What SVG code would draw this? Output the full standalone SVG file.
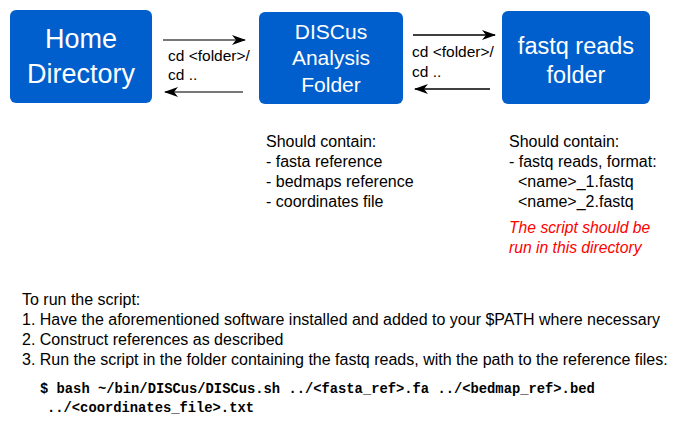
<svg xmlns="http://www.w3.org/2000/svg" width="679" height="425" viewBox="0 0 679 425">
<style>
.box{fill:#005fcc;}
.bt{font-family:"Liberation Sans",Arial,sans-serif;fill:#ffffff;text-anchor:middle;}
.t{font-family:"Liberation Sans",Arial,sans-serif;fill:#000000;font-size:16px;}
.lbl{font-family:"Liberation Sans",Arial,sans-serif;fill:#000000;font-size:15.5px;}
.red{font-family:"Liberation Sans",Arial,sans-serif;fill:#ff0000;font-size:15.7px;font-style:italic;}
.code{font-family:"Liberation Mono","Courier New",monospace;font-weight:bold;font-size:13.8px;fill:#000;}
.g{stroke:#777777;stroke-width:2;fill:none;}
.k{stroke:#000000;stroke-width:1.5;fill:none;}
</style>
<defs>
<marker id="ah" viewBox="0 0 14 10" refX="13" refY="5" markerWidth="14" markerHeight="10" markerUnits="userSpaceOnUse" orient="auto">
<path d="M0,0 L14,5 L0,10 L4,5 Z" fill="#000"/>
</marker>
</defs>
<rect width="679" height="425" fill="#ffffff"/>
<g id="home">
<rect class="box" x="10" y="10" width="142" height="93" rx="6"/>
<text class="bt" x="81" y="47.5" font-size="27">Home</text>
<text class="bt" x="81" y="83" font-size="27">Directory</text>
</g>
<g id="discus">
<rect class="box" x="259" y="12" width="144" height="92" rx="6"/>
<text class="bt" x="331" y="38.5" font-size="21">DISCus</text>
<text class="bt" x="331" y="65" font-size="21">Analysis</text>
<text class="bt" x="331" y="91.5" font-size="21">Folder</text>
</g>
<g id="fastq">
<rect class="box" x="502" y="11" width="148" height="93" rx="6"/>
<text class="bt" x="576" y="54" font-size="23.5">fastq reads</text>
<text class="bt" x="576" y="83" font-size="23.5">folder</text>
</g>
<g id="connectors">
<line class="g" x1="163" y1="40" x2="245" y2="40" marker-end="url(#ah)"/>
<line class="g" x1="243" y1="92" x2="165" y2="92" marker-end="url(#ah)"/>
<line class="k" x1="413" y1="35" x2="495" y2="35" marker-end="url(#ah)"/>
<line class="k" x1="490" y1="89" x2="415" y2="89" marker-end="url(#ah)"/>
<text class="lbl" x="168" y="61">cd &lt;folder&gt;/</text>
<text class="lbl" x="168" y="80">cd ..</text>
<text class="lbl" x="412" y="57">cd &lt;folder&gt;/</text>
<text class="lbl" x="412" y="77">cd ..</text>
</g>
<g id="notes">
<text class="t" x="266" y="147">Should contain:</text>
<text class="t" x="266" y="167">- fasta reference</text>
<text class="t" x="266" y="187">- bedmaps reference</text>
<text class="t" x="266" y="207">- coordinates file</text>
<text class="t" x="509" y="147">Should contain:</text>
<text class="t" x="509" y="167">- fastq reads, format:</text>
<text class="t" x="518" y="187">&lt;name&gt;_1.fastq</text>
<text class="t" x="518" y="207">&lt;name&gt;_2.fastq</text>
<text class="red" x="509" y="233">The script should be</text>
<text class="red" x="509" y="253">run in this directory</text>
</g>
<g id="instructions">
<text class="t" x="22" y="305">To run the script:</text>
<text class="t" x="22" y="325">1. Have the aforementioned software installed and added to your $PATH where necessary</text>
<text class="t" x="22" y="345">2. Construct references as described</text>
<text class="t" x="22" y="365">3. Run the script in the folder containing the fastq reads, with the path to the reference files:</text>
<text class="code" x="40" y="393">$ bash ~/bin/DISCus/DISCus.sh ../&lt;fasta_ref&gt;.fa ../&lt;bedmap_ref&gt;.bed</text>
<text class="code" x="47" y="412">../&lt;coordinates_file&gt;.txt</text>
</g>
</svg>
